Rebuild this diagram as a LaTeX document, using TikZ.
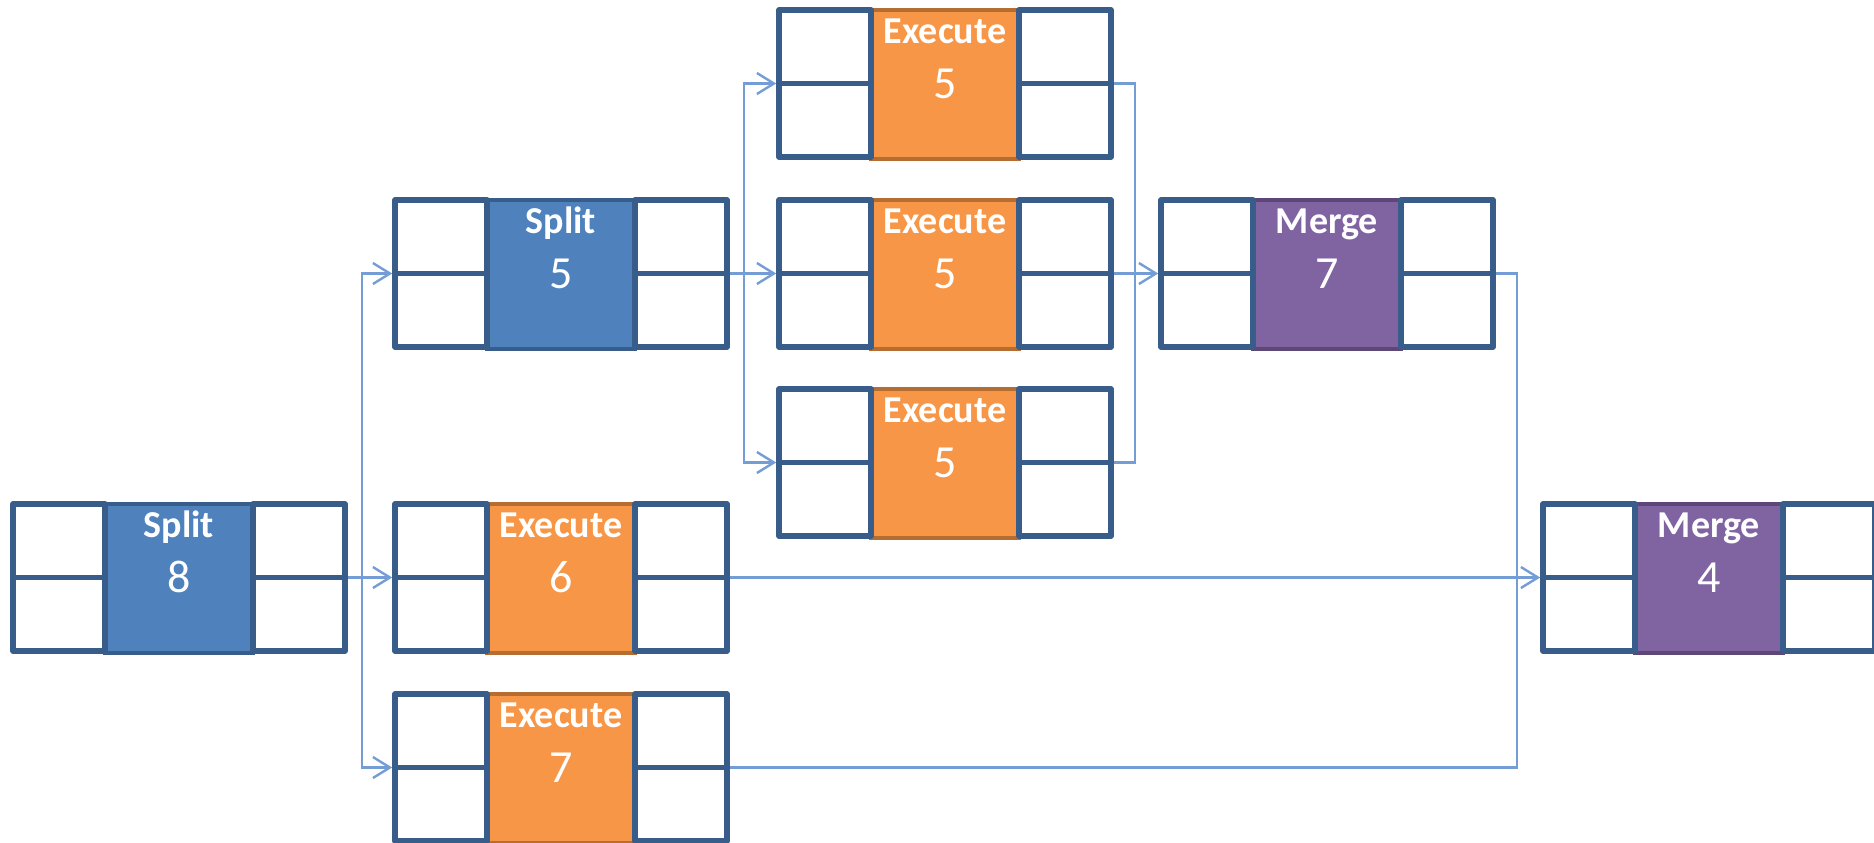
\documentclass[tikz,border=0pt]{standalone}
\usepackage{fontspec}
\setmainfont{Carlito}
\usetikzlibrary{calc,arrows.meta}

\definecolor{framec}{HTML}{385D8A}
\definecolor{linkc}{RGB}{116,156,213}
\definecolor{splitfill}{HTML}{4F81BD}
\definecolor{splitedge}{HTML}{385D8A}
\definecolor{execfill}{HTML}{F79646}
\definecolor{execedge}{HTML}{B66D31}
\definecolor{mergefill}{HTML}{8064A2}
\definecolor{mergeedge}{HTML}{5C4776}

\pgfdeclarelayer{bg}
\pgfsetlayers{bg,main}

\tikzset{
  cellframe/.style={rectangle, minimum width=166pt, minimum height=73.5pt,
    inner sep=0pt, outer sep=0pt},
  cellline/.style={draw=framec, line width=2.8pt, line join=round},
  cellbox/.style={cellline, fill=white},
  coreblock/.style={line width=2pt},
  titletext/.style={text=white, font=\bfseries\fontsize{19pt}{21pt}\selectfont,
    anchor=base, inner sep=0pt},
  numtext/.style={text=white, font=\fontsize{23pt}{26pt}\selectfont,
    anchor=base, inner sep=0pt},
  link/.style={draw=linkc, line width=1.1pt},
  arrowlink/.style={link, shorten >=1.4pt,
    -{Straight Barb[length=8.5pt,width=10.5pt,line width=1.2pt]}},
}

% #1 name, #2 centre, #3 title, #4 duration, #5 fill, #6 edge
\newcommand\taskcell[6]{%
  \node[cellframe] (#1) at (#2) {};
  \draw[coreblock, fill=#5, draw=#6]
    ($(#1.north west)+(92,0)$) rectangle ($(#1.south east)+(-92,2)$);
  \draw[cellbox] (#1.north west) rectangle ($(#1.south west)+(92,0)$);
  \draw[cellline] (#1.west) -- ($(#1.west)+(92,0)$);
  \draw[cellbox] ($(#1.north east)+(-92,0)$) rectangle (#1.south east);
  \draw[cellline] ($(#1.east)+(-92,0)$) -- (#1.east);
  \node[titletext] (#1t) at ($(#1.center)+(0,-40.5)$) {#3};
  \node[numtext] (#1n) at ($(#1.center)+(0,15)$) {#4};
}

\begin{document}
\begin{tikzpicture}[x=0.5pt,y=-0.5pt]
  \useasboundingbox (0,0) rectangle (1874,842);

  \taskcell{s8}{179,577.5}{Split}{8}{splitfill}{splitedge}
  \taskcell{s5}{561,273.5}{Split}{5}{splitfill}{splitedge}
  \taskcell{e6}{561,577.5}{Execute}{6}{execfill}{execedge}
  \taskcell{e7}{561,767.5}{Execute}{7}{execfill}{execedge}
  \taskcell{ea}{945,83.5}{Execute}{5}{execfill}{execedge}
  \taskcell{eb}{945,273.5}{Execute}{5}{execfill}{execedge}
  \taskcell{ec}{945,462.5}{Execute}{5}{execfill}{execedge}
  \taskcell{m7}{1327,273.5}{Merge}{7}{mergefill}{mergeedge}
  \taskcell{m4}{1709,577.5}{Merge}{4}{mergefill}{mergeedge}

  \coordinate (j1) at ($(s8.east)+(17,0)$);
  \coordinate (j2) at ($(s5.east)+(17,0)$);
  \coordinate (j3) at ($(ea.east)+(24,0)$);
  \coordinate (j4) at ($(m7.east)+(24,0)$);

  \begin{pgfonlayer}{bg}
    % first split fans out to three tasks
    \draw[arrowlink] (s8.east) -- (e6.west);
    \draw[arrowlink] (j1) |- (s5.west);
    \draw[arrowlink] (j1) |- (e7.west);
    % second split fans out to the three executes
    \draw[arrowlink] (s5.east) -- (eb.west);
    \draw[arrowlink] (j2) |- (ea.west);
    \draw[arrowlink] (j2) |- (ec.west);
    % executes join into the first merge
    \draw[link] (ea.east) -- (j3) |- (ec.east);
    \draw[arrowlink] (eb.east) -- (m7.west);
    % first merge and the last execute join the final merge
    \draw[link] (m7.east) -- (j4) |- (e7.east);
    \draw[arrowlink] (e6.east) -- (m4.west);
  \end{pgfonlayer}
\end{tikzpicture}
\end{document}
